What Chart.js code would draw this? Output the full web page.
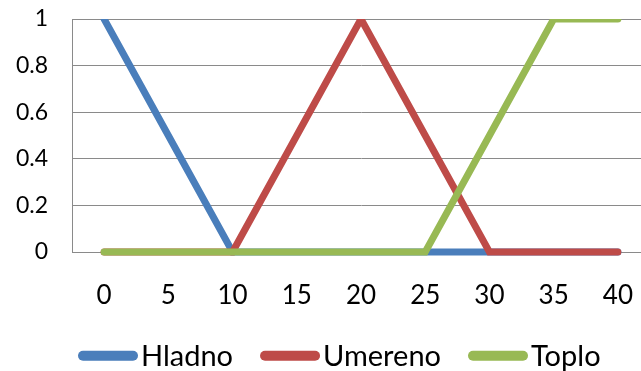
<!DOCTYPE html>
<html>
<head>
<meta charset="utf-8">
<script src="https://cdn.jsdelivr.net/npm/chart.js@4/dist/chart.umd.min.js"></script>
<style>
  html, body { margin: 0; padding: 0; background: #ffffff; overflow: hidden; width: 641px; height: 371px; }
  canvas { display: block; }
</style>
</head>
<body>
<canvas id="c" width="660" height="371"></canvas>
<script>
// Temperature categories (x axis)
const categories = ['0', '5', '10', '15', '20', '25', '30', '35', '40'];

// Membership degree of each fuzzy set
const hladno  = [1, 0.5, 0, 0, 0, 0, 0, 0, 0];
const umereno = [0, 0, 0, 0.5, 1, 0.5, 0, 0, 0];
const toplo   = [0, 0, 0, 0, 0, 0, 0.5, 1, 1];

// Value axis labels, bottom to top
const yTickLabels = ['0', '0.2', '0.4', '0.6', '0.8', '1'];

const seriesNames = ['Hladno', 'Umereno', 'Toplo'];
const seriesColors = ['#4a7ebb', '#be4b48', '#98b954'];

const FONT = 'Lato, "Open Sans", sans-serif';

// Legend drawn under the plot: a rounded line swatch followed by the series name
const bottomLegend = {
  id: 'bottomLegend',
  afterDraw(chart) {
    const ctx = chart.ctx;
    const y = 355.7;
    let x = 78;
    ctx.save();
    ctx.font = '29px ' + FONT;
    ctx.textBaseline = 'alphabetic';
    ctx.textAlign = 'left';
    chart.data.datasets.forEach((ds) => {
      ctx.strokeStyle = ds.borderColor;
      ctx.lineWidth = 10;
      ctx.lineCap = 'round';
      ctx.beginPath();
      ctx.moveTo(x + 5, y);
      ctx.lineTo(x + 55, y);
      ctx.stroke();
      const tx = x + 63;
      ctx.fillStyle = '#000000';
      ctx.fillText(ds.label, tx, 366);
      x = tx + ctx.measureText(ds.label).width + 27;
    });
    ctx.restore();
  }
};

const makeSet = (i, values, order) => ({
  label: seriesNames[i],
  data: values,
  borderColor: seriesColors[i],
  backgroundColor: seriesColors[i],
  borderWidth: 7,
  borderCapStyle: 'round',
  borderJoinStyle: 'miter',
  pointRadius: 0,
  pointHoverRadius: 0,
  tension: 0,
  fill: false,
  order: order,
  clip: { left: false, top: 0, right: false, bottom: false }
});

new Chart(document.getElementById('c'), {
  type: 'line',
  data: {
    labels: categories,
    datasets: [
      makeSet(0, hladno, 2),
      makeSet(1, umereno, 1),
      makeSet(2, toplo, 0)
    ]
  },
  options: {
    responsive: false,
    animation: false,
    devicePixelRatio: 1,
    layout: { padding: { top: 19, left: 0, right: 10, bottom: 0 } },
    plugins: {
      legend: { display: false },
      tooltip: { enabled: false }
    },
    scales: {
      x: {
        type: 'category',
        offset: true,
        grid: { display: false, drawTicks: false },
        border: { display: true, color: '#8a8a8a', width: 1 },
        ticks: {
          color: '#000000',
          font: { family: FONT, size: 26 },
          padding: 28,
          maxRotation: 0,
          autoSkip: false
        },
        afterFit(scale) {
          scale.height = 119;
          scale.paddingLeft = 0;
          scale.paddingRight = 0;
        }
      },
      y: {
        min: 0,
        max: 1,
        grid: { color: '#8a8a8a', lineWidth: 1, drawTicks: false },
        border: { display: true, color: '#8a8a8a', width: 1 },
        ticks: {
          stepSize: 0.2,
          color: '#000000',
          font: { family: FONT, size: 23 },
          padding: 24,
          callback: (value, index) => yTickLabels[index]
        },
        afterFit(scale) {
          scale.width = 72;
          scale.paddingTop = 0;
          scale.paddingBottom = 0;
        }
      }
    }
  },
  plugins: [bottomLegend]
});
</script>
</body>
</html>
